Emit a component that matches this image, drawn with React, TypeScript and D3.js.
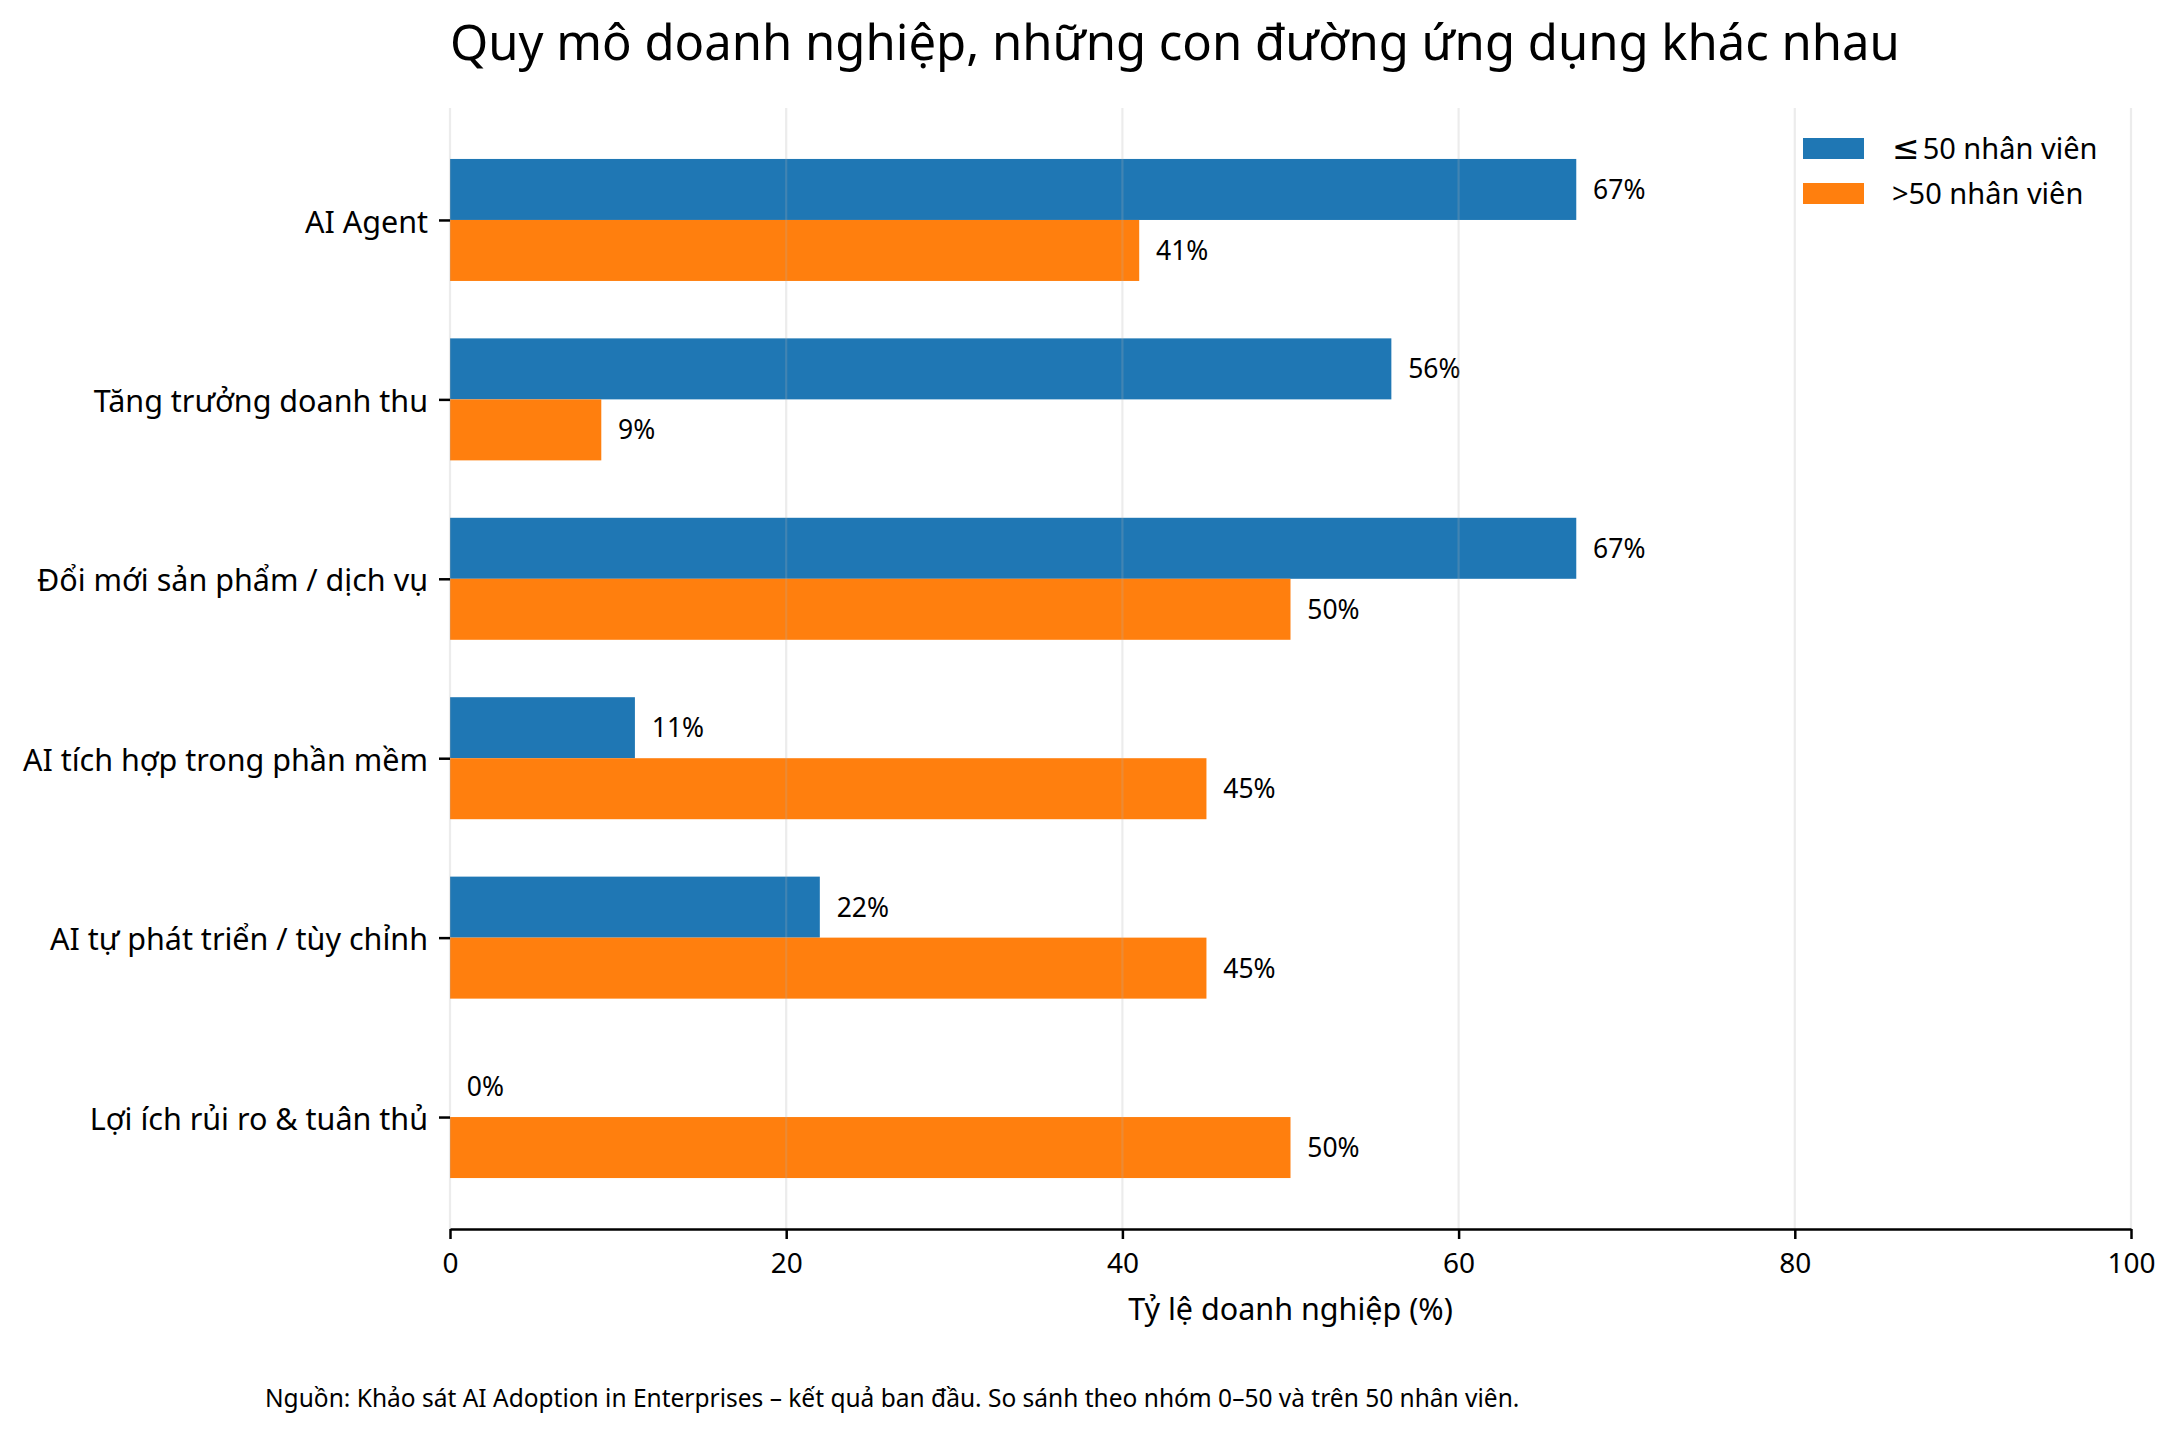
import React, { useEffect, useRef } from 'react';
import * as d3 from 'd3';

const categories = [
  'AI Agent',
  'Tăng trưởng doanh thu',
  'Đổi mới sản phẩm / dịch vụ',
  'AI tích hợp trong phần mềm',
  'AI tự phát triển / tùy chỉnh',
  'Lợi ích rủi ro & tuân thủ',
];
const smallFirms = [67, 56, 67, 11, 22, 0];
const largeFirms = [41, 9, 50, 45, 45, 50];
// legend: [symbol, rest of label]
const seriesNames: [string, string][] = [['≤', '50 nhân viên'], ['>', '50 nhân viên']];
const xTicks = [0, 20, 40, 60, 80, 100];

const W = 2178;
const H = 1435;
const FONT = '"Noto Sans", "DejaVu Sans", sans-serif';
const BLUE = '#1f77b4';
const ORANGE = '#ff7f0e';

export default function App() {
  const ref = useRef<SVGSVGElement>(null);

  useEffect(() => {
    if (!ref.current) return;
    const svg = d3.select(ref.current);
    svg.selectAll('*').remove();

    const left = 450, right = 2131, top = 108, bottom = 1229;
    const barH = 0.34;
    const pad = 0.05 * (categories.length - 1 + 2 * barH);

    const x = d3.scaleLinear().domain([0, 100]).range([left, right]);
    const y = d3.scaleLinear()
      .domain([-barH - pad, categories.length - 1 + barH + pad])
      .range([top, bottom]);

    svg.append('rect').attr('width', W).attr('height', H).attr('fill', '#fff');

    // bars + value labels
    const series = [
      { values: smallFirms, color: BLUE, off: -barH },
      { values: largeFirms, color: ORANGE, off: 0 },
    ];
    series.forEach(s => {
      svg.append('g')
        .selectAll('rect')
        .data(s.values)
        .enter()
        .append('rect')
        .attr('x', x(0))
        .attr('y', (_, i) => y(i + s.off))
        .attr('width', d => x(d) - x(0))
        .attr('height', y(barH) - y(0))
        .attr('fill', s.color);

      svg.append('g')
        .selectAll('text')
        .data(s.values)
        .enter()
        .append('text')
        .attr('x', d => x(d + 1))
        .attr('y', (_, i) => y(i + s.off + barH / 2))
        .attr('dy', '0.36em')
        .style('font-family', FONT)
        .style('font-size', '26.5px')
        .attr('fill', '#000')
        .text(d => `${d}%`);
    });

    // grid drawn over the bars
    svg.append('g')
      .selectAll('line')
      .data(xTicks)
      .enter()
      .append('line')
      .attr('x1', d => x(d))
      .attr('x2', d => x(d))
      .attr('y1', top)
      .attr('y2', bottom)
      .attr('stroke', '#b0b0b0')
      .attr('stroke-opacity', 0.24)
      .attr('stroke-width', 2.2);

    // x axis
    const gx = svg.append('g')
      .attr('transform', `translate(0,${bottom})`)
      .call(d3.axisBottom(x).tickValues(xTicks).tickSize(10).tickPadding(14).tickSizeOuter(0));
    gx.select('.domain').attr('stroke', '#000').attr('stroke-width', 2.5);
    gx.selectAll('.tick line').attr('stroke', '#000').attr('stroke-width', 2.5);
    gx.selectAll('.tick text')
      .style('font-family', FONT)
      .style('font-size', '28px')
      .attr('fill', '#000');

    // y axis, spine hidden
    const gy = svg.append('g')
      .attr('transform', `translate(${left},0)`)
      .call(d3.axisLeft(y)
        .tickValues(d3.range(categories.length))
        .tickFormat((i: any) => categories[i])
        .tickSize(11)
        .tickPadding(11));
    gy.select('.domain').remove();
    gy.selectAll('.tick line').attr('stroke', '#000').attr('stroke-width', 2.5);
    gy.selectAll('.tick text')
      .attr('dy', '0.4em')
      .style('font-family', FONT)
      .style('font-size', '30.5px')
      .attr('fill', '#000');

    // title
    svg.append('text')
      .attr('x', left)
      .attr('y', 60)
      .style('font-family', FONT)
      .style('font-size', '49px')
      .attr('fill', '#000')
      .text('Quy mô doanh nghiệp, những con đường ứng dụng khác nhau');

    // x label
    svg.append('text')
      .attr('x', (left + right) / 2)
      .attr('y', 1320)
      .attr('text-anchor', 'middle')
      .style('font-family', FONT)
      .style('font-size', '30.5px')
      .attr('fill', '#000')
      .text('Tỷ lệ doanh nghiệp (%)');

    // legend
    const legend = svg.append('g').attr('transform', 'translate(1803,138)');
    seriesNames.forEach(([sym, rest], i) => {
      legend.append('rect')
        .attr('x', 0)
        .attr('y', i * 45)
        .attr('width', 61)
        .attr('height', 21)
        .attr('fill', i === 0 ? BLUE : ORANGE);
      const t = legend.append('text')
        .attr('x', 89)
        .attr('y', i * 45 + 21)
        .style('font-family', FONT)
        .style('font-size', '29px')
        .attr('fill', '#000');
      t.append('tspan')
        .style('font-family', i === 0 ? '"DejaVu Sans", sans-serif' : FONT)
        .style('font-size', i === 0 ? '33px' : '29px')
        .text(sym);
      t.append('tspan').attr('dx', i === 0 ? 3 : 0).text(rest);
    });

    // source note
    svg.append('text')
      .attr('x', 265)
      .attr('y', 1407)
      .style('font-family', FONT)
      .style('font-size', '24.5px')
      .attr('fill', '#000')
      .text('Nguồn: Khảo sát AI Adoption in Enterprises – kết quả ban đầu. So sánh theo nhóm 0–50 và trên 50 nhân viên.');
  }, []);

  return (
    <div style={{ position: 'absolute', left: 0, top: 0 }}>
      <svg ref={ref} width={W} height={H} style={{ display: 'block' }} />
    </div>
  );
}
